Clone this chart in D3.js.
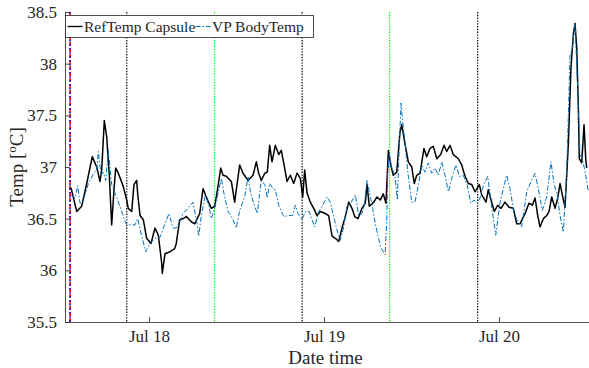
<!DOCTYPE html>
<html>
<head>
<meta charset="utf-8">
<script src="https://cdn.jsdelivr.net/npm/d3@7"></script>
<style>
  body { margin: 0; background: #fff; }
  svg { display: block; font-family: "Liberation Serif", "Times New Roman", serif; }
</style>
</head>
<body>
<div id="chart"></div>
<script>
// hours after Jul 17 00:00
const refHours = [13.30,14.08,14.77,15.46,16.22,16.83,17.28,17.51,17.87,18.20,18.56,18.88,19.20,19.43,19.79,20.48,20.94,21.16,21.63,21.94,22.31,22.45,22.77,23.22,23.68,24.27,24.82,25.28,25.74,25.82,26.19,26.88,27.52,27.74,28.21,28.66,29.12,29.80,30.27,30.95,31.41,31.86,32.54,33.01,33.46,33.83,34.15,34.60,35.29,35.75,35.97,36.44,36.89,37.58,38.26,38.72,39.04,39.40,39.87,40.22,40.55,40.87,41.32,41.79,42.14,42.47,42.93,43.38,43.84,44.30,44.75,45.08,45.35,45.67,46.12,46.59,47.04,47.49,48.18,48.64,49.10,49.55,50.02,50.47,50.92,51.39,51.84,52.21,52.66,53.21,53.66,53.90,54.21,54.82,55.27,55.72,56.13,56.50,56.82,57.15,57.50,57.97,58.42,58.66,58.97,59.56,60.03,60.38,60.71,61.17,61.71,62.08,62.54,62.99,63.46,64.00,64.46,64.83,65.28,65.73,66.42,66.88,67.34,67.79,68.26,68.71,69.30,69.63,70.22,70.53,70.90,71.36,71.82,72.27,72.82,73.37,73.96,74.43,74.88,75.57,76.11,76.57,76.94,77.31,77.62,78.08,78.54,78.86,79.23,79.68,80.05,80.37,80.68,81.05,81.50,81.87,82.19,82.42,82.66,82.88,83.01,83.34,83.66,83.89,84.03];
const refTemp = [36.80,36.57,36.62,36.84,37.10,37.00,36.86,36.97,37.45,37.29,36.91,36.44,36.78,36.99,36.94,36.81,36.68,36.60,36.57,36.83,36.87,36.74,36.53,36.49,36.31,36.26,36.41,36.34,36.07,35.97,36.16,36.18,36.21,36.26,36.49,36.50,36.52,36.47,36.45,36.55,36.79,36.71,36.60,36.62,36.81,36.99,36.92,36.91,36.86,36.66,36.78,37.02,36.94,36.87,36.92,37.05,36.94,36.87,36.94,36.95,37.21,37.05,37.21,37.12,37.16,37.04,36.86,36.92,36.84,36.94,36.89,36.71,36.97,36.75,36.66,36.60,36.53,36.57,36.55,36.53,36.33,36.31,36.28,36.41,36.52,36.66,36.60,36.52,36.50,36.60,36.65,36.83,36.62,36.66,36.71,36.68,36.74,36.65,37.16,37.02,36.92,36.95,37.34,37.41,37.28,37.05,37.00,36.84,36.92,36.94,37.18,37.10,37.18,37.20,37.08,37.12,37.21,37.15,37.21,37.12,37.08,37.02,36.91,36.84,36.83,36.76,36.83,36.73,36.66,36.78,36.68,36.57,36.63,36.60,36.66,36.61,36.60,36.45,36.45,36.55,36.65,36.63,36.70,36.53,36.42,36.50,36.53,36.57,36.71,36.60,36.70,36.84,36.73,36.61,37.21,37.96,38.28,38.39,38.15,37.57,37.08,37.04,37.41,37.08,36.99];

const vpHours = [13.30,13.85,14.22,14.54,14.99,15.68,16.50,16.83,17.05,17.42,17.73,18.06,18.42,18.88,19.43,20.02,20.48,20.94,21.63,22.08,22.45,22.90,23.55,24.14,24.82,25.51,26.19,26.74,27.29,27.74,28.21,28.66,29.35,30.03,30.49,30.82,31.17,31.72,32.19,32.54,33.01,33.46,33.92,34.29,34.83,35.52,35.97,36.44,37.12,37.58,37.95,38.50,38.85,39.40,39.87,40.22,40.55,41.01,41.32,41.79,42.47,43.16,43.71,44.06,44.43,44.98,45.44,45.98,46.35,46.72,47.27,47.73,48.41,48.86,49.33,49.78,50.24,50.70,51.15,51.74,52.29,52.76,53.21,53.58,53.90,54.27,54.68,55.04,55.41,55.80,56.37,56.60,56.74,56.96,57.29,57.74,58.05,58.33,58.56,58.79,59.11,59.56,60.03,60.48,60.93,61.40,61.85,62.30,62.77,63.22,63.68,64.14,64.59,65.05,65.51,66.10,66.56,67.10,67.65,68.12,68.57,69.02,69.39,69.85,70.45,70.90,71.55,72.14,72.59,73.06,73.51,73.96,74.43,75.11,75.80,76.39,76.94,77.39,77.94,78.54,79.13,79.58,79.91,80.37,80.82,81.28,81.74,82.05,82.42,82.79,83.11,83.42,83.70,84.03,84.25];
const vpTemp = [36.73,36.70,36.82,36.65,36.68,36.84,36.95,36.97,37.15,36.92,36.95,36.87,37.16,36.83,36.73,36.62,36.52,36.44,36.44,36.44,36.50,36.36,36.18,36.26,36.31,36.32,36.45,36.55,36.41,36.41,36.47,36.55,36.60,36.66,36.49,36.33,36.53,36.73,36.63,36.50,36.60,36.74,36.89,36.74,36.57,36.49,36.41,36.58,36.71,36.91,36.74,36.62,36.55,36.87,36.83,36.70,36.84,36.79,36.78,36.63,36.52,36.53,36.53,36.63,36.55,36.49,36.57,36.57,36.49,36.42,36.57,36.62,36.71,36.66,36.52,36.39,36.29,36.42,36.62,36.66,36.73,36.53,36.55,36.66,36.87,36.74,36.60,36.45,36.33,36.22,36.15,36.47,36.95,37.13,36.99,36.92,36.68,37.21,37.62,37.44,37.23,36.91,36.66,36.66,36.82,37.02,36.95,37.04,36.94,36.99,36.92,37.05,36.92,36.76,36.89,37.02,36.91,36.92,36.82,36.65,36.68,36.65,36.70,36.82,36.91,36.66,36.34,36.66,36.79,36.92,36.79,36.60,36.49,36.42,36.76,36.86,36.94,36.79,36.58,36.71,37.05,36.82,36.76,36.53,36.37,36.94,38.08,38.15,38.39,37.76,37.12,37.08,36.99,36.86,36.76];

// event markers (hours after Jul 17 00:00)
const startMark = [13.17];
const nightMarks = [20.95, 45.0, 69.07];
const morningMarks = [32.98, 57.0];

const yTicks = [35.5, 36, 36.5, 37, 37.5, 38, 38.5];
const xTickHours = [24, 48, 72];
const seriesNames = ["RefTemp Capsule", "VP BodyTemp"];

const base = new Date(2023, 6, 17);
const toDate = h => new Date(base.getTime() + h * 3600 * 1000);

const width = 589, height = 368;
const margin = { left: 65, right: 0, top: 12, bottom: 46 };
const axisCol = "#262626";

const svg = d3.select("#chart").append("svg")
  .attr("width", width).attr("height", height);

const x = d3.scaleTime()
  .domain([toDate(12.48), toDate(84.34)])
  .range([margin.left, width - margin.right]);
const y = d3.scaleLinear()
  .domain([35.5, 38.5])
  .range([height - margin.bottom, margin.top]);

// clip so nothing spills outside the axes
svg.append("clipPath").attr("id", "clip")
  .append("rect")
  .attr("x", margin.left).attr("y", margin.top)
  .attr("width", width - margin.left).attr("height", y(35.5) - margin.top);

const plot = svg.append("g").attr("clip-path", "url(#clip)");

// vertical event lines
const vline = (hours, color, dash, w) => {
  plot.selectAll(null).data(hours).enter().append("line")
    .attr("x1", d => x(toDate(d))).attr("x2", d => x(toDate(d)))
    .attr("y1", y(38.5)).attr("y2", y(35.5))
    .attr("stroke", color).attr("stroke-width", w)
    .attr("stroke-dasharray", dash);
};
vline(startMark, "#ff0000", "4,2", 1.6);
vline(startMark, "#0000ff", "1.5,2.5", 1.6);
vline(nightMarks, "#000", "1.4,1.4", 1.2);
vline(morningMarks, "#00ff00", "1.4,1.4", 1.2);

const refData = refHours.map((h, i) => ({ t: toDate(h), v: refTemp[i] }));
const vpData = vpHours.map((h, i) => ({ t: toDate(h), v: vpTemp[i] }));

const line = d3.line().x(d => x(d.t)).y(d => y(d.v));

plot.append("path").datum(refData)
  .attr("d", line).attr("fill", "none")
  .attr("stroke", "#000").attr("stroke-width", 1.5)
  .attr("stroke-linejoin", "round");

plot.append("path").datum(vpData)
  .attr("d", line).attr("fill", "none")
  .attr("stroke", "#0072BD").attr("stroke-width", 1)
  .attr("stroke-dasharray", "5,2,1.5,2");

// axes, MATLAB style: ticks inside
const yAxis = svg.append("g")
  .attr("transform", `translate(${margin.left},0)`)
  .call(d3.axisLeft(y).tickValues(yTicks).tickSizeInner(-5).tickSizeOuter(0).tickPadding(8)
    .tickFormat(d3.format("")));
const xAxis = svg.append("g")
  .attr("transform", `translate(0,${y(35.5)})`)
  .call(d3.axisBottom(x).tickValues(xTickHours.map(toDate)).tickSizeInner(-5).tickSizeOuter(0).tickPadding(8)
    .tickFormat(d3.timeFormat("%b %d")));

[yAxis, xAxis].forEach(a => {
  a.select(".domain").attr("stroke", axisCol).attr("stroke-width", 0.8);
  a.selectAll(".tick line").attr("stroke", axisCol).attr("stroke-width", 0.8);
  a.selectAll(".tick text").attr("fill", axisCol)
    .style("font-family", "Liberation Serif").style("font-size", "17px");
});

// axis labels
svg.append("text")
  .attr("x", x(toDate(48.2))).attr("y", 364)
  .attr("text-anchor", "middle").attr("fill", axisCol)
  .style("font-size", "19px").text("Date time");

const yl = svg.append("text")
  .attr("transform", `translate(23,${y(37)}) rotate(-90)`)
  .attr("text-anchor", "middle").attr("fill", axisCol)
  .style("font-size", "19px");
yl.append("tspan").text("Temp [");
yl.append("tspan").attr("dy", -7).style("font-size", "13px").text("o");
yl.append("tspan").attr("dy", 7).text("C]");

// legend
const legend = svg.append("g").attr("transform", "translate(65.5,15.5)");
legend.append("rect")
  .attr("width", 248).attr("height", 22)
  .attr("fill", "#fff").attr("stroke", axisCol).attr("stroke-width", 0.8);

const legItems = [
  { name: seriesNames[0], color: "#000", dash: null, x0: 2 },
  { name: seriesNames[1], color: "#0072BD", dash: "5,2,1.5,2", x0: 130 }
];
legItems.forEach(it => {
  legend.append("line")
    .attr("x1", it.x0).attr("x2", it.x0 + 15)
    .attr("y1", 11).attr("y2", 11)
    .attr("stroke", it.color).attr("stroke-width", it.dash ? 1 : 1.3)
    .attr("stroke-dasharray", it.dash);
  legend.append("text")
    .attr("x", it.x0 + 16.5).attr("y", 16.5)
    .attr("fill", axisCol).style("font-size", "15.5px")
    .text(it.name);
});
</script>
</body>
</html>
